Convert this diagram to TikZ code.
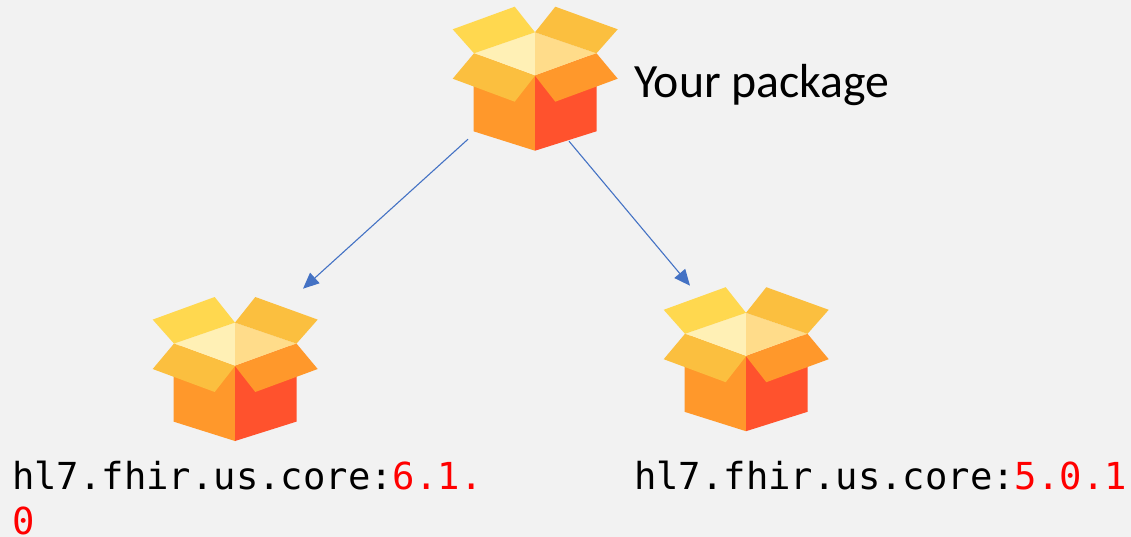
\documentclass[tikz,border=0pt]{standalone}
\usepackage{fontspec}
\setmainfont{Carlito}
\newfontfamily\codefont{DejaVu Sans Mono}
\usetikzlibrary{arrows.meta,calc}
\definecolor{bgc}{HTML}{F2F2F2}
\definecolor{flapA}{HTML}{FFD84F}
\definecolor{flapB}{HTML}{FBBF3F}
\definecolor{innerA}{HTML}{FFF0B5}
\definecolor{innerB}{HTML}{FFDC8A}
\definecolor{sideA}{HTML}{FF982B}
\definecolor{sideB}{HTML}{FF522D}
\definecolor{linkc}{HTML}{4472C4}
\definecolor{verc}{HTML}{FF0000}
\tikzset{
  x=1pt,y=-1pt,
  parcel/.pic={
    % body
    \fill[sideA] (-61.5,-20) -- (0,-20) -- (0,75) -- (-61.5,55.6) -- cycle;
    \fill[sideB] (0,-20) -- (61.5,-20) -- (61.5,55.6) -- (0,75) -- cycle;
    % inside
    \fill[innerA] (0,-43.4) -- (0,0) -- (-61,-22.4) -- cycle;
    \fill[innerB] (0,-43.4) -- (0,0) -- (61.5,-22.4) -- cycle;
    % upper flaps
    \fill[flapA] (0,-43.4) -- (-20.3,-69) -- (-82.3,-46.4) -- (-61,-22.4) -- cycle;
    \fill[flapB] (0,-43.4) -- (20.3,-69) -- (82.7,-46.4) -- (61.5,-22.4) -- cycle;
    % lower flaps
    \fill[flapB] (0,0) -- (-61,-22.4) -- (-82.3,3) -- (-20.3,26) -- cycle;
    \fill[sideA] (0,0) -- (61.5,-22.4) -- (82.7,3) -- (20.3,26) -- cycle;
  },
  boxanchor/.style={inner sep=0pt,minimum size=0pt},
  arrowlink/.style={draw=linkc,line width=1.1pt,-{Triangle[length=16pt,width=14pt,fill=linkc]}},
  maintext/.style={anchor=base west,inner sep=0pt,font=\fontsize{47.8}{47.8}\selectfont,text=black},
  codetext/.style={anchor=base west,inner sep=0pt,font=\codefont\fontsize{37.2}{37.2}\selectfont,text=black},
}
\begin{document}
\begin{tikzpicture}
\useasboundingbox (0,0) rectangle (1131,537);
\fill[bgc] (0,0) rectangle (1131,537);
\node[boxanchor] (top) at (535,75.7) {};
\node[boxanchor] (left) at (235,366) {};
\node[boxanchor] (right) at (746,356.2) {};
\pic at (top) {parcel};
\pic at (left) {parcel};
\pic at (right) {parcel};
\coordinate (topL) at ($(top)+(-67,63.5)$);
\coordinate (topR) at ($(top)+(34,65.5)$);
\coordinate (leftIn) at ($(left)+(68,-77.3)$);
\coordinate (rightIn) at ($(right)+(-56,-70.5)$);
\draw[arrowlink] (topL) -- (leftIn);
\draw[arrowlink] (topR) -- (rightIn);
\node[maintext] (lab) at (634,98) {Your package};
\node[codetext] (v6) at (12,489) {hl7.fhir.us.core:\textcolor{verc}{6.1.}};
\node[codetext] (v6b) at (12,534) {\textcolor{verc}{0}};
\node[codetext] (v5) at (634,489) {hl7.fhir.us.core:\textcolor{verc}{5.0.1}};
\end{tikzpicture}
\end{document}
